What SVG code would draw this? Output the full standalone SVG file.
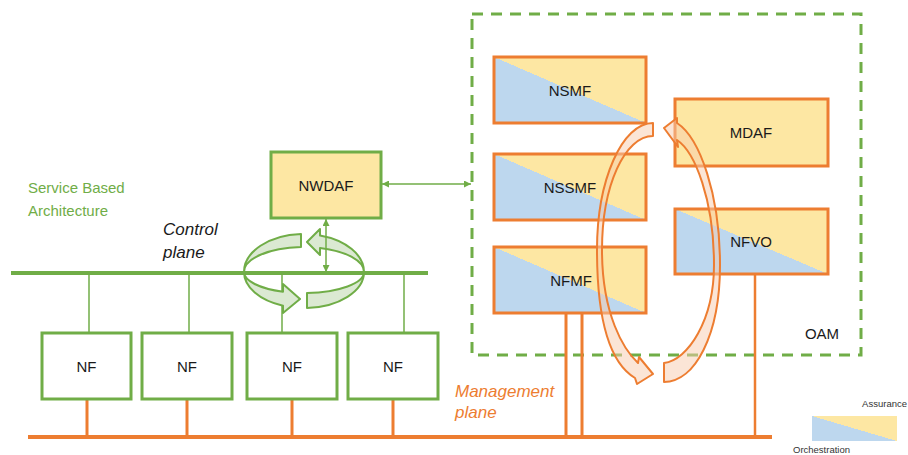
<svg xmlns="http://www.w3.org/2000/svg" width="908" height="455" viewBox="0 0 908 455">
<defs>
<linearGradient id="split" x1="0" y1="1" x2="1" y2="0">
<stop offset="0.5" stop-color="#bdd7ee"/>
<stop offset="0.5" stop-color="#fde7a3"/>
</linearGradient>
<marker id="ag" viewBox="0 0 8 8" refX="8" refY="4" markerWidth="7" markerHeight="7" markerUnits="userSpaceOnUse" orient="auto-start-reverse">
<path d="M0,0 L8,4 L0,8 z" fill="#70ad47"/>
</marker>
</defs>
<style>
.nf{fill:#fff;stroke:#70ad47;stroke-width:3}
.yg{fill:#fde7a3;stroke:#70ad47;stroke-width:3}
.os{fill:url(#split);stroke:#ed7d31;stroke-width:3}
.oy{fill:#fde7a3;stroke:#ed7d31;stroke-width:3}
.t{font-family:"Liberation Sans",Arial,sans-serif;font-size:15px;fill:#1a1a1a;text-anchor:middle}
.gt{font-family:"Liberation Sans",Arial,sans-serif;font-size:15px;fill:#70ad47}
.it{font-family:"Liberation Sans",Arial,sans-serif;font-size:17px;font-style:italic}
.sm{font-family:"Liberation Sans",Arial,sans-serif;font-size:9.5px;fill:#333}
.gl{stroke:#70ad47;fill:none}
.ol{stroke:#ed7d31;fill:none}
.ga{fill:#dbe9d2;stroke:#70ad47;stroke-width:2;stroke-linejoin:round}
.oa{fill:#f8cbad;fill-opacity:0.5;stroke:#ed7d31;stroke-width:2;stroke-linejoin:round}
</style>
<rect width="908" height="455" fill="#fff"/>

<g id="oam">
<rect x="472" y="14" width="389" height="341" fill="none" stroke="#70ad47" stroke-width="3" stroke-dasharray="11 8"/>
<text class="t" x="822" y="339" font-size="16">OAM</text>
</g>

<text class="gt" x="28" y="193">Service Based</text>
<text class="gt" x="28" y="216">Architecture</text>
<text class="it" x="163" y="235" fill="#1a1a1a">Control</text>
<text class="it" x="163" y="258" fill="#1a1a1a">plane</text>
<text class="it" x="455" y="397" fill="#ed7d31">Management</text>
<text class="it" x="455" y="418" fill="#ed7d31">plane</text>

<g id="buses">
<line class="gl" x1="11" y1="273" x2="428" y2="273" stroke-width="4"/>
<line class="ol" x1="28" y1="437" x2="772" y2="437" stroke-width="4"/>
</g>

<g id="connectors">
<line class="gl" x1="89" y1="273" x2="89" y2="333" stroke-width="1.5"/>
<line class="gl" x1="189" y1="273" x2="189" y2="333" stroke-width="1.5"/>
<line class="gl" x1="282" y1="273" x2="282" y2="333" stroke-width="1.5"/>
<line class="gl" x1="404" y1="273" x2="404" y2="333" stroke-width="1.5"/>
<line class="ol" x1="87" y1="399" x2="87" y2="437" stroke-width="3"/>
<line class="ol" x1="187" y1="399" x2="187" y2="437" stroke-width="3"/>
<line class="ol" x1="292" y1="399" x2="292" y2="437" stroke-width="3"/>
<line class="ol" x1="393" y1="399" x2="393" y2="437" stroke-width="3"/>
<line class="ol" x1="566" y1="313" x2="566" y2="437" stroke-width="3"/>
<line class="ol" x1="582" y1="313" x2="582" y2="437" stroke-width="3"/>
<line class="ol" x1="755" y1="274" x2="755" y2="437" stroke-width="2.5"/>
<line class="gl" x1="382" y1="184" x2="471" y2="184" stroke-width="1.5" marker-start="url(#ag)" marker-end="url(#ag)"/>
</g>

<g id="nf1"><rect class="nf" x="42" y="333" width="89" height="66"/><text class="t" x="86.5" y="371.5">NF</text></g>
<g id="nf2"><rect class="nf" x="142" y="333" width="90" height="66"/><text class="t" x="187" y="371.5">NF</text></g>
<g id="nf3"><rect class="nf" x="247" y="333" width="90" height="66"/><text class="t" x="292" y="371.5">NF</text></g>
<g id="nf4"><rect class="nf" x="348" y="333" width="90" height="66"/><text class="t" x="393" y="371.5">NF</text></g>

<g id="nwdaf"><rect class="yg" x="271" y="152" width="110" height="66"/><text class="t" x="326" y="190.5">NWDAF</text></g>

<g id="cp-cycle">
<path class="ga" d="M301,234 A60,38 0 0 0 244,272 A60,36 0 0 0 283,305.7 L283,313 L300,299 L283,284 L283,291.7 A60,21 0 0 1 244,272 A60,25 0 0 1 301,247 Z"/>
<path class="ga" d="M307,308 A60,36 0 0 0 364,272 A60,38 0 0 0 320,235.4 L320,229 L307,242 L320,255 L320,247.9 A60,25 0 0 1 364,272 A60,21 0 0 1 307,293 Z"/>
</g>
<line class="gl" x1="326" y1="219" x2="326" y2="272" stroke-width="1.5" marker-start="url(#ag)" marker-end="url(#ag)"/>

<g id="nsmf"><rect class="os" x="494" y="57" width="152" height="66"/><text class="t" x="570" y="95.5">NSMF</text></g>
<g id="nssmf"><rect class="os" x="494" y="154" width="152" height="66"/><text class="t" x="570" y="192.5">NSSMF</text></g>
<g id="nfmf"><rect class="os" x="494" y="247" width="152" height="66"/><text class="t" x="571" y="286">NFMF</text></g>
<g id="mdaf"><rect class="oy" x="675" y="99" width="153" height="67"/><text class="t" x="751" y="138">MDAF</text></g>
<g id="nfvo"><rect class="os" x="675" y="209" width="153" height="65"/><text class="t" x="751" y="247">NFVO</text></g>

<g id="mgmt-cycle">
<path class="oa" d="M653,123 C622,123 597,180 597,250 C597,320 610,363 635,378 L637,384 L653,374 L639,357 L638,363 C624,350 602,315 602,250 C602,185 625,136 653,136 Z"/>
<path class="oa" d="M664,382 C695,382 720,335 720,265 C720,195 700,138 677,123 L677,118 L664,128 L678,147 L677,140 C695,152 714,200 714,265 C714,320 688,360 664,363 Z"/>
</g>

<g id="legend">
<rect x="812" y="416" width="85" height="25" fill="url(#split)"/>
<text class="sm" x="907" y="407" text-anchor="end">Assurance</text>
<text class="sm" x="793" y="453">Orchestration</text>
</g>
</svg>
